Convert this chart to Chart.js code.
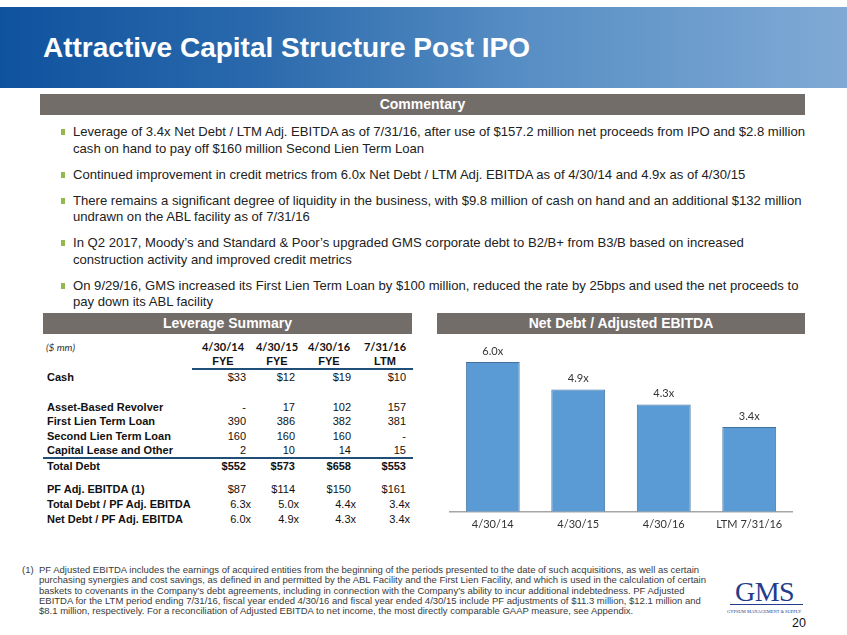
<!DOCTYPE html>
<html>
<head>
<meta charset="utf-8">
<title>Attractive Capital Structure Post IPO</title>
<script src="https://cdn.jsdelivr.net/npm/chart.js@4.4.0/dist/chart.umd.min.js"></script>
<style>
  body { margin: 0; width: 847px; height: 635px; position: relative; overflow: hidden; background: #fff;
         font-family: "Liberation Sans", Arial, sans-serif; color: #222; }
  .abs { position: absolute; white-space: nowrap; }
  #titlebar { left: 0; top: 7px; width: 847px; height: 81px;
              background: linear-gradient(to right, #0f529e 0%, #2a69ac 30%, #578ec4 62%, #80aad5 100%); }
  #title { left: 43px; top: 34px; font: bold 28px/28px "Liberation Sans Narrow", "Liberation Sans", sans-serif; color: #fff; }
  .hdr { background: #736d6a; color: #fff; font: bold 14px/21px "Liberation Sans", Arial, sans-serif;
         text-align: center; height: 21px; }
  #bullets { left: 73px; top: 124px; margin: 0; padding: 0; list-style: none; font-size: 13.1px; line-height: 16.5px;
             color: #222; }
  #bullets li { position: relative; margin-bottom: 9.5px; }
  #bullets li::before { content: ""; position: absolute; left: -12px; top: 5px; width: 4px; height: 6px; background: #93b84e; }
  .cell { position: absolute; height: 14px; line-height: 14px; font-size: 11px; color: #111; white-space: nowrap; }
  .lbl { left: 47px; font-weight: bold; }
  .num { text-align: right; width: 60px; }
  .bold { font-weight: bold; }
  .colhead { position: absolute; width: 60px; text-align: center; font-weight: bold; font-size: 11px; line-height: 14px; color: #111; }
  .rule { position: absolute; height: 2px; background: #1f4e79; }
  #footnote { left: 22px; top: 565px; font-size: 9.5px; line-height: 10.25px; color: #3a3a3a; }
  #chartBox { position: absolute; left: 437px; top: 337px; }
</style>
</head>
<body>

<div id="titlebar" class="abs"></div>
<div id="title" class="abs">Attractive Capital Structure Post IPO</div>

<div class="abs hdr" style="left:40px; top:94px; width:765px;">Commentary</div>
<ul id="bullets" class="abs">
  <li>Leverage of 3.4x Net Debt / LTM Adj. EBITDA as of 7/31/16, after use of $157.2 million net proceeds from IPO and $2.8 million<br>cash on hand to pay off $160 million Second Lien Term Loan</li>
  <li>Continued improvement in credit metrics from 6.0x Net Debt / LTM Adj. EBITDA as of 4/30/14 and 4.9x as of 4/30/15</li>
  <li>There remains a significant degree of liquidity in the business, with $9.8 million of cash on hand and an additional $132 million<br>undrawn on the ABL facility as of 7/31/16</li>
  <li>In Q2 2017, Moody’s and Standard &amp; Poor’s upgraded GMS corporate debt to B2/B+ from B3/B based on increased<br>construction activity and improved credit metrics</li>
  <li>On 9/29/16, GMS increased its First Lien Term Loan by $100 million, reduced the rate by 25bps and used the net proceeds to<br>pay down its ABL facility</li>
</ul>

<div class="abs hdr" style="left:43px; top:313px; width:369px;">Leverage Summary</div>
<div class="abs hdr" style="left:437px; top:313px; width:368px;">Net Debt / Adjusted EBITDA</div>

<div id="table"></div>
<div class="rule" style="left:192px; top:368px; width:221px;"></div>
<div class="rule" style="left:43px; top:457px; width:370px;"></div>

<div id="chartBox"><canvas id="leverageChart" width="370" height="200"></canvas></div>

<div id="footnote" class="abs">
  <span style="position:absolute; left:0;">(1)</span>
  <div style="margin-left:17px;">PF Adjusted EBITDA includes the earnings of acquired entities from the beginning of the periods presented to the date of such acquisitions, as well as certain<br>purchasing synergies and cost savings, as defined in and permitted by the ABL Facility and the First Lien Facility, and which is used in the calculation of certain<br>baskets to covenants in the Company’s debt agreements, including in connection with the Company’s ability to incur additional indebtedness. PF Adjusted<br>EBITDA for the LTM period ending 7/31/16, fiscal year ended 4/30/16 and fiscal year ended 4/30/15 include PF adjustments of $11.3 million, $12.1 million and<br>$8.1 million, respectively. For a reconciliation of Adjusted EBITDA to net income, the most directly comparable GAAP measure, see Appendix.</div>
</div>

<div class="abs" style="left:735px; top:578px; font: 28px/28px 'Liberation Serif', serif; color: #233d8c; letter-spacing: -0.5px;">GMS</div>
<div class="abs" style="left:730px; top:604px; width:73px; height:1px; background:#233d8c;"></div>
<div class="abs" style="left:727px; top:609px; font: 9px/9px 'Liberation Serif', serif; color: #233d8c; transform: scale(0.5); transform-origin: 0 0;">GYPSUM MANAGEMENT &amp; SUPPLY</div>
<div class="abs" style="left:792px; top:616px; font-size: 12.5px; line-height: 14px; color: #111;">20</div>

<script>
  // periods / column headers
  const periods = ['4/30/14', '4/30/15', '4/30/16', '7/31/16'];
  const periodTypes = ['FYE', 'FYE', 'FYE', 'LTM'];

  // leverage summary ($ mm)
  const cash = [33, 12, 19, 10];
  const revolver = [null, 17, 102, 157];
  const firstLien = [390, 386, 382, 381];
  const secondLien = [160, 160, 160, null];
  const capitalLease = [2, 10, 14, 15];
  const totalDebt = [552, 573, 658, 553];
  const pfEbitda = [87, 114, 150, 161];
  const totalLeverage = [6.3, 5.0, 4.4, 3.4];
  const netLeverage = [6.0, 4.9, 4.3, 3.4];

  // bar chart categories
  const chartLabels = ['4/30/14', '4/30/15', '4/30/16', 'LTM 7/31/16'];

  const table = document.getElementById('table');
  const colCenters = [223, 277, 329, 385];
  const moneyRight = [246, 295, 351, 406];
  const ratioRight = [251, 299, 356, 410];

  function addCell(cls, text, left, top, extra) {
    const d = document.createElement('div');
    d.className = cls;
    d.textContent = text;
    d.style.left = left + 'px';
    d.style.top = top + 'px';
    if (extra) Object.assign(d.style, extra);
    table.appendChild(d);
    return d;
  }

  addCell('cell', '($ mm)', 46, 340, { fontStyle: 'italic', fontSize: '10px', fontFamily: 'Lato, sans-serif', color: '#333' });
  periods.forEach((p, i) => {
    addCell('colhead', p, colCenters[i] - 30, 340, { fontFamily: 'Lato, sans-serif' });
    addCell('colhead', periodTypes[i], colCenters[i] - 30, 354);
  });

  const fmtMoney = v => v === null ? '-' : '$' + v;
  const fmtNum = v => v === null ? '-' : String(v);
  const fmtX = v => v.toFixed(1) + 'x';

  const rows = [
    { label: 'Cash', y: 377, vals: cash, fmt: fmtMoney, right: moneyRight },
    { label: 'Asset-Based Revolver', y: 407, vals: revolver, fmt: fmtNum, right: moneyRight },
    { label: 'First Lien Term Loan', y: 421, vals: firstLien, fmt: fmtNum, right: moneyRight },
    { label: 'Second Lien Term Loan', y: 436, vals: secondLien, fmt: fmtNum, right: moneyRight },
    { label: 'Capital Lease and Other', y: 450, vals: capitalLease, fmt: fmtNum, right: moneyRight },
    { label: 'Total Debt', y: 466, vals: totalDebt, fmt: fmtMoney, right: moneyRight, bold: true },
    { label: 'PF Adj. EBITDA (1)', y: 489, vals: pfEbitda, fmt: fmtMoney, right: moneyRight },
    { label: 'Total Debt / PF Adj. EBITDA', y: 504, vals: totalLeverage, fmt: fmtX, right: ratioRight },
    { label: 'Net Debt / PF Adj. EBITDA', y: 519, vals: netLeverage, fmt: fmtX, right: ratioRight }
  ];

  rows.forEach(r => {
    addCell('cell lbl', r.label, 47, r.y - 7);
    r.vals.forEach((v, i) => {
      addCell('cell num' + (r.bold ? ' bold' : ''), r.fmt(v), r.right[i] - 60, r.y - 7);
    });
  });

  // value labels above bars
  const barLabels = {
    id: 'barLabels',
    afterDatasetsDraw(chart) {
      const ctx = chart.ctx;
      const meta = chart.getDatasetMeta(0);
      ctx.save();
      ctx.font = '11px Lato, sans-serif';
      ctx.fillStyle = '#333';
      ctx.textAlign = 'center';
      ctx.textBaseline = 'bottom';
      meta.data.forEach((bar, i) => {
        ctx.fillText(netLeverage[i].toFixed(1) + 'x', bar.x, bar.y - 5);
      });
      ctx.restore();
    }
  };

  new Chart(document.getElementById('leverageChart'), {
    type: 'bar',
    data: {
      labels: chartLabels,
      datasets: [{
        data: netLeverage,
        backgroundColor: '#5b9bd5',
        borderColor: '#41719c',
        borderWidth: 1,
        categoryPercentage: 1,
        barPercentage: 0.63
      }]
    },
    options: {
      responsive: false,
      animation: false,
      layout: { padding: { left: 13, right: 15, top: 0, bottom: 0 } },
      plugins: { legend: { display: false }, tooltip: { enabled: false } },
      scales: {
        x: {
          grid: { display: false, drawTicks: false },
          border: { display: true, color: '#a6a6a6', width: 1.5 },
          ticks: { color: '#333', font: { family: 'Lato', size: 11 }, padding: 6 }
        },
        y: { display: false, min: 0, max: 7 }
      }
    },
    plugins: [barLabels]
  });
</script>
</body>
</html>
